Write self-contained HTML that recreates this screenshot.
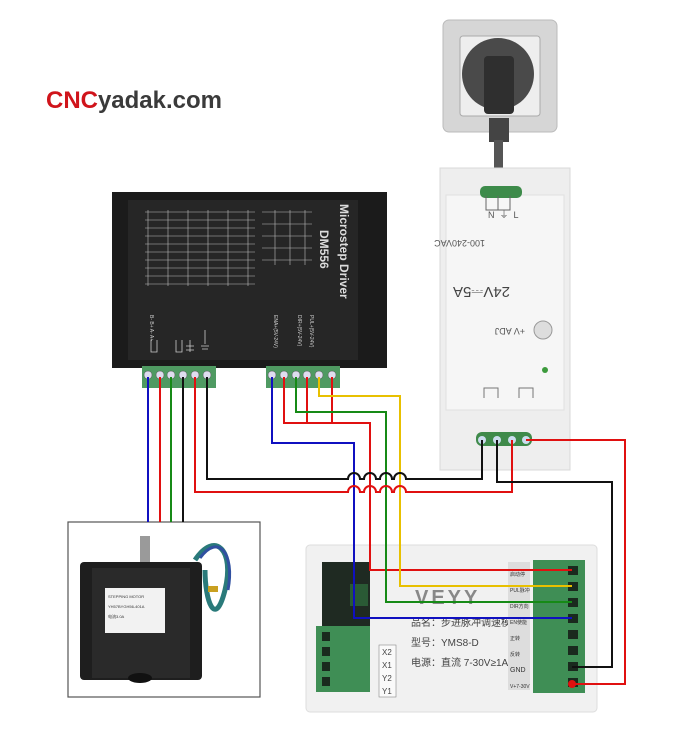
<!DOCTYPE html>
<html><head><meta charset="utf-8"><style>
html,body{margin:0;padding:0;background:#fff;}
svg{display:block;}
text{font-family:"Liberation Sans","Noto Sans CJK SC",sans-serif;}
</style></head><body>
<svg width="696" height="747" viewBox="0 0 696 747" xmlns="http://www.w3.org/2000/svg">
<rect width="696" height="747" fill="#fff"/>
<text x="46" y="108" font-size="24" font-weight="bold" fill="#d0141b" textLength="176" lengthAdjust="spacingAndGlyphs">CNC<tspan fill="#3a3a3a">yadak.com</tspan></text>

<!-- socket -->
<rect x="443" y="20" width="114" height="112" rx="6" fill="#d6d6d6" stroke="#bbb"/>
<rect x="460" y="36" width="80" height="80" rx="3" fill="#eeeeee" stroke="#aaa"/>
<circle cx="498" cy="74" r="36" fill="#4a4a4a"/>
<rect x="484" y="56" width="30" height="58" rx="4" fill="#2f2f2f"/>
<rect x="489" y="118" width="20" height="24" fill="#444"/>
<rect x="494" y="140" width="9" height="32" fill="#555"/>

<!-- PSU -->
<rect x="440" y="168" width="130" height="302" fill="#eeeeee" stroke="#d8d8d8"/>
<rect x="446" y="195" width="118" height="215" fill="#f6f6f6" stroke="#e0e0e0"/>
<rect x="480" y="186" width="42" height="12" rx="5" fill="#3d8b4a"/>
<path d="M486 196v14h12v-14M498 196v14h12v-14" fill="none" stroke="#666"/>
<text x="488" y="218" font-size="9" fill="#555">N&#160;&#160;⏚&#160;&#160;L</text>
<text x="515" y="240" font-size="9" fill="#555" transform="rotate(180 500 240)">100-240VAC</text>
<text x="500" y="297" font-size="15" fill="#444" transform="rotate(180 505 292)">24V⎓5A</text>
<circle cx="543" cy="330" r="9" fill="#ddd" stroke="#999"/>
<text x="505" y="334" font-size="9" fill="#555" transform="rotate(180 515 331)">+V ADJ</text>
<circle cx="545" cy="370" r="3" fill="#3c9a3c"/>
<path d="M484 398v-10h14v10M519 398v-10h14v10" fill="none" stroke="#777"/>
<rect x="476" y="432" width="56" height="14" rx="6" fill="#3f8a4a"/>
<circle cx="482" cy="440" r="4" fill="#cde"/><circle cx="497" cy="440" r="4" fill="#cde"/><circle cx="512" cy="440" r="4" fill="#cde"/><circle cx="526" cy="440" r="4" fill="#cde"/>

<!-- Driver -->
<rect x="112" y="192" width="275" height="176" fill="#1b1b1b"/>
<rect x="128" y="200" width="230" height="160" fill="#262626"/>
<g stroke="#bbb" stroke-width="0.6">
<path d="M145 212h110M145 220h110M145 228h110M145 236h110M145 244h110M145 252h110M145 260h110M145 268h110M145 276h110M145 284h110"/>
<path d="M148 210v76M168 210v76M188 210v76M208 210v76M228 210v76M248 210v76"/>
<path d="M262 212h50M262 224h50M262 236h50M262 248h50M262 260h50M275 210v55M290 210v55M305 210v55"/>
</g>
<text x="340" y="204" font-size="12" font-weight="bold" fill="#ddd" transform="rotate(90 340 204)">Microstep Driver</text>
<text x="320" y="230" font-size="12" font-weight="bold" fill="#ddd" transform="rotate(90 320 230)">DM556</text>
<g font-size="5" fill="#ccc">
<text x="310" y="315" transform="rotate(90 310 315)">PUL+(5V-24V)</text>
<text x="298" y="315" transform="rotate(90 298 315)">DIR+(5V-24V)</text>
<text x="274" y="315" transform="rotate(90 274 315)">ENA+(5V-24V)</text>
<text x="150" y="315" transform="rotate(90 150 315)">B-  B+  A-  A+</text>
</g>
<path d="M151 340v12h6v-12M176 340v12h6v-12M190 340v12M186 346h8M186 350h8M205 330v14M201 346h8M202 349h6" fill="none" stroke="#ccc" stroke-width="0.8"/>
<rect x="142" y="366" width="74" height="22" fill="#4f9a62"/>
<rect x="266" y="366" width="74" height="22" fill="#4f9a62"/>
<g fill="#dde" stroke="#555" stroke-width="0.5">
<circle cx="148" cy="375" r="4"/><circle cx="160" cy="375" r="4"/><circle cx="171" cy="375" r="4"/><circle cx="183" cy="375" r="4"/><circle cx="195" cy="375" r="4"/><circle cx="207" cy="375" r="4"/>
<circle cx="272" cy="375" r="4"/><circle cx="284" cy="375" r="4"/><circle cx="296" cy="375" r="4"/><circle cx="307" cy="375" r="4"/><circle cx="319" cy="375" r="4"/><circle cx="332" cy="375" r="4"/>
</g>

<!-- Motor box -->
<rect x="68" y="522" width="192" height="175" fill="#fff" stroke="#555" stroke-width="1.2"/>
<rect x="140" y="536" width="10" height="30" fill="#9a9a9a"/>
<rect x="80" y="562" width="122" height="118" rx="4" fill="#1e1e1e"/>
<rect x="92" y="568" width="98" height="110" fill="#2a2a2a"/>
<rect x="105" y="588" width="60" height="45" fill="#f2f2f2"/>
<g font-size="4" fill="#333"><text x="108" y="598">STEPPING MOTOR</text><text x="108" y="608">YH57BYGH56-401A</text><text x="108" y="618">电流3.0A</text></g>
<ellipse cx="140" cy="678" rx="12" ry="5" fill="#111"/>
<path d="M195 560c20-30 40-10 30 30s-20 10-20-20" fill="none" stroke="#2a7a7a" stroke-width="5"/>
<path d="M200 558c18-25 35-5 28 32" fill="none" stroke="#3050a0" stroke-width="3"/>
<rect x="208" y="586" width="10" height="6" fill="#c9a020"/>

<!-- Controller -->
<rect x="306" y="545" width="291" height="167" rx="4" fill="#f1f1f1" stroke="#ddd"/>
<rect x="322" y="562" width="48" height="128" fill="#1f2a22"/>
<rect x="350" y="584" width="18" height="22" fill="#2a5a35"/>
<rect x="316" y="626" width="54" height="66" fill="#3f8e55"/>
<g fill="#1a2a1e"><rect x="322" y="632" width="8" height="9"/><rect x="322" y="647" width="8" height="9"/><rect x="322" y="662" width="8" height="9"/><rect x="322" y="677" width="8" height="9"/></g>
<g font-size="8" fill="#444"><rect x="379" y="645" width="17" height="52" fill="#fafafa" stroke="#888" stroke-width="0.6"/>
<text x="382" y="655">X2</text><text x="382" y="668">X1</text><text x="382" y="681">Y2</text><text x="382" y="694">Y1</text></g>
<text x="415" y="604" font-size="20" font-weight="bold" fill="#888" letter-spacing="3">VEYY</text>
<text x="411" y="626" font-size="10" fill="#444">品名：步进脉冲调速模块</text>
<text x="411" y="646" font-size="10" fill="#444">型号：YMS8-D</text>
<text x="411" y="666" font-size="10" fill="#444">电源：直流 7-30V≥1A</text>
<rect x="508" y="562" width="22" height="128" fill="#ddd"/>
<g font-size="5" fill="#333"><text x="510" y="576">启动停</text><text x="510" y="592">PUL脉冲</text><text x="510" y="608">DIR方向</text><text x="510" y="624">EN使能</text><text x="510" y="640">正转</text><text x="510" y="656">反转</text><text x="510" y="672" font-size="7">GND</text><text x="510" y="688">V+7-30V</text></g>
<rect x="533" y="560" width="52" height="133" fill="#3f8e55"/>
<g fill="#1a2a1e"><rect x="568" y="566" width="10" height="9"/><rect x="568" y="582" width="10" height="9"/><rect x="568" y="598" width="10" height="9"/><rect x="568" y="614" width="10" height="9"/><rect x="568" y="630" width="10" height="9"/><rect x="568" y="646" width="10" height="9"/><rect x="568" y="662" width="10" height="9"/><rect x="568" y="678" width="10" height="9"/></g>

<!-- wires -->
<g fill="none" stroke-width="2">
<path d="M148 377V522" stroke="#1010c0"/>
<path d="M160 377V522" stroke="#e01010"/>
<path d="M171 377V522" stroke="#168a16"/>
<path d="M183 377V522" stroke="#111"/>
<path d="M272 377V443H354V618H572" stroke="#1010c0"/>
<path d="M284 377V423H370V570H572M307 377V423M332 377V423" stroke="#e01010"/>
<path d="M296 377V412H386V602H572" stroke="#168a16"/>
<path d="M319 377V396H400V586H572" stroke="#e8c000"/>
<path d="M195 377V492H348a6 6 0 0 1 12 0h4a6 6 0 0 1 12 0h4a6 6 0 0 1 12 0h2a6 6 0 0 1 12 0H512V440" stroke="#e01010"/>
<path d="M207 377V479H348a6 6 0 0 1 12 0h4a6 6 0 0 1 12 0h4a6 6 0 0 1 12 0h2a6 6 0 0 1 12 0H482V440" stroke="#111"/>
<path d="M497 440V482H612V667H572" stroke="#111"/>
<path d="M526 440H625V684H572" stroke="#e01010"/>
</g>
<circle cx="572" cy="684" r="4" fill="#e01010"/>
</svg>
</body></html>
